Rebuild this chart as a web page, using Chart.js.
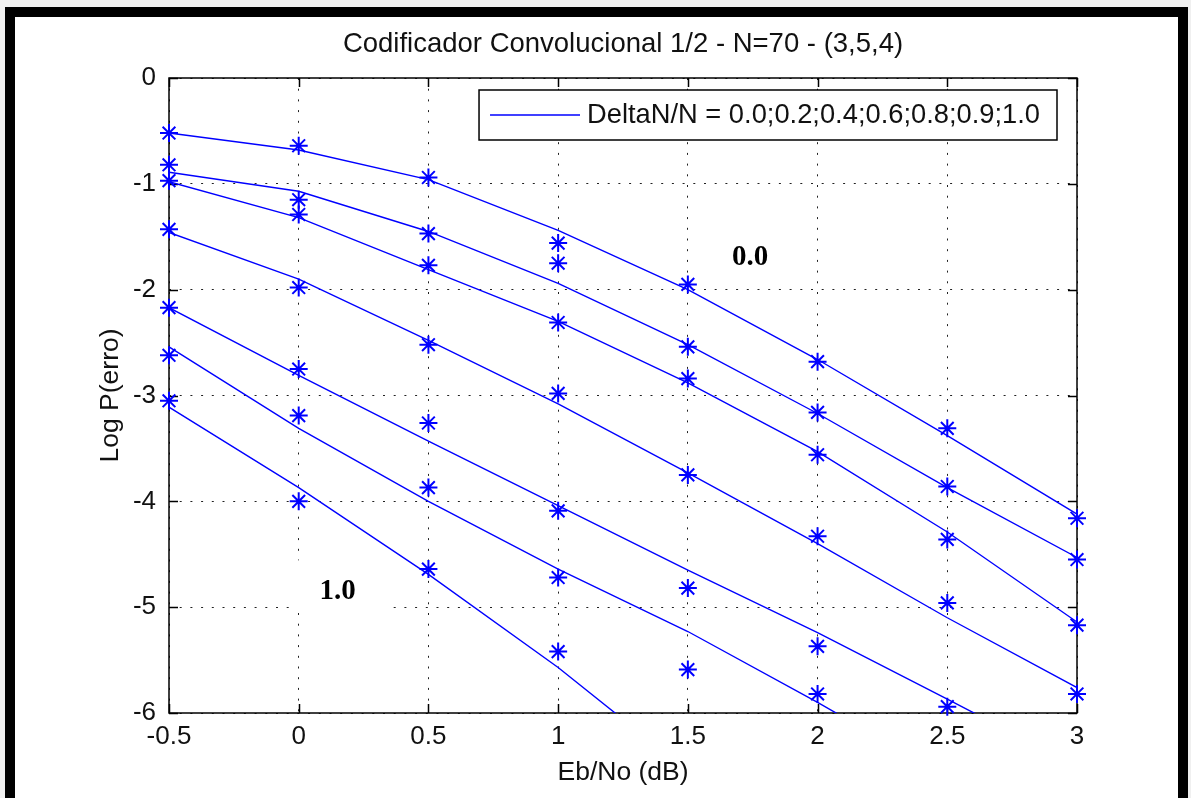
<!DOCTYPE html>
<html>
<head>
<meta charset="utf-8">
<title>Codificador Convolucional</title>
<script src="https://cdn.jsdelivr.net/npm/chart.js@4.4.0/dist/chart.umd.min.js"></script>
<style>
  html, body { margin: 0; padding: 0; background: #f0f0f0; }
  #wrap { position: relative; width: 1191px; height: 798px; overflow: hidden; }
  #frame { position: absolute; left: 5px; top: 7px; width: 1163px; height: 900px;
           border: 10px solid #000; background: #fff; }
  #c { position: absolute; left: 0; top: 0; }
</style>
</head>
<body>
<div id="wrap">
  <div id="frame"></div>
  <canvas id="c" width="1191" height="798"></canvas>
</div>
<script>
// Eb/No (dB) sample points
const ebNo = [-0.5, 0, 0.5, 1, 1.5, 2, 2.5, 3];

// fitted curves, one per DeltaN/N (log10 of error prob.)
const fit00 = [-0.52, -0.68, -0.96, -1.44, -2.00, -2.66, -3.38, -4.12];
const fit02 = [-0.89, -1.07, -1.45, -1.94, -2.52, -3.17, -3.87, -4.53];
const fit04 = [-0.98, -1.32, -1.81, -2.30, -2.88, -3.53, -4.29, -5.14];
const fit06 = [-1.46, -1.90, -2.48, -3.08, -3.73, -4.40, -5.10, -5.76];
const fit08 = [-2.17, -2.81, -3.43, -4.04, -4.65, -5.24, -5.87, -6.50];
const fit09 = [-2.54, -3.31, -4.00, -4.64, -5.23, -5.90, -6.60, null];
const fit10 = [-3.11, -3.87, -4.69, -5.57, -6.55, null, null, null];

// simulated points ('*' markers)
const sim00 = [-0.52, -0.64, -0.94, -1.56, -1.95, -2.68, -3.31, -4.16];
const sim02 = [-0.82, -1.15, -1.47, -1.75, -2.54, -3.16, -3.86, -4.55];
const sim04 = [-0.97, -1.29, -1.77, -2.31, -2.84, -3.56, -4.36, -5.17];
const sim06 = [-1.43, -1.98, -2.52, -2.98, -3.75, -4.33, -4.96, -5.82];
const sim08 = [-2.17, -2.75, -3.26, -4.09, -4.82, -5.37, -5.94, null];
const sim09 = [-2.62, -3.19, -3.87, -4.72, -5.59, -5.82, null, null];
const sim10 = [-3.05, -4.00, -4.64, -5.42, null, null, null, null];

const xTicks = [-0.5, 0, 0.5, 1, 1.5, 2, 2.5, 3];
const xTickLabels = ['-0.5', '0', '0.5', '1', '1.5', '2', '2.5', '3'];
const yTicks = [-6, -5, -4, -3, -2, -1, 0];
const yTickLabels = ['-6', '-5', '-4', '-3', '-2', '-1', '0'];

const legendText = 'DeltaN/N = 0.0;0.2;0.4;0.6;0.8;0.9;1.0';
// curve labels written on the plot
const noteText = ['0.0', '1.0'];
const noteX = [1.74, 0.15];
const noteY = [-1.70, -4.85];

const FONT = "'Liberation Sans', Arial, sans-serif";
const INK = '#111';
const BLUE = '#0000ff';

const fitCurves = [fit00, fit02, fit04, fit06, fit08, fit09, fit10];
const simPoints = [sim00, sim02, sim04, sim06, sim08, sim09, sim10];

const toXY = arr => ebNo.map((x, i) => ({ x: x, y: arr[i] }));

const datasets = [];
fitCurves.forEach((arr, i) => {
  datasets.push({
    label: i === 0 ? legendText : '',
    data: toXY(arr),
    showLine: true,
    borderColor: BLUE,
    borderWidth: 1.4,
    pointRadius: 0,
    tension: 0
  });
});
simPoints.forEach(arr => {
  datasets.push({
    label: '',
    data: toXY(arr),
    showLine: false,
    clip: false,
    pointStyle: 'star',
    pointRadius: 9,
    pointHoverRadius: 9,
    borderColor: BLUE,
    backgroundColor: BLUE,
    borderWidth: 2
  });
});

// matlab style box, inward ticks, legend box and text notes
const matlabAxes = {
  id: 'matlabAxes',
  beforeDatasetsDraw(chart) {
    const { ctx, chartArea: a, scales: { x, y } } = chart;
    ctx.save();
    ctx.strokeStyle = '#000';
    ctx.lineWidth = 1.5;
    ctx.strokeRect(a.left, a.top, a.right - a.left, a.bottom - a.top);
    ctx.beginPath();
    xTicks.forEach(v => {
      const px = Math.round(x.getPixelForValue(v)) + 0.5;
      ctx.moveTo(px, a.bottom); ctx.lineTo(px, a.bottom - 9);
      ctx.moveTo(px, a.top); ctx.lineTo(px, a.top + 9);
    });
    yTicks.forEach(v => {
      const py = Math.round(y.getPixelForValue(v)) + 0.5;
      ctx.moveTo(a.left, py); ctx.lineTo(a.left + 9, py);
      ctx.moveTo(a.right, py); ctx.lineTo(a.right - 9, py);
    });
    ctx.stroke();
    ctx.restore();
  },
  afterDatasetsDraw(chart) {
    const { ctx, chartArea: a, scales: { x, y } } = chart;
    ctx.save();
    // legend
    ctx.font = '27.3px ' + FONT;
    const tw = ctx.measureText(legendText).width;
    const w = 11 + 90 + 7 + tw + 17, h = 50;
    const lx = a.right - 20 - w, ly = a.top + 12;
    ctx.fillStyle = '#fff';
    ctx.fillRect(lx, ly, w, h);
    ctx.strokeStyle = '#000';
    ctx.lineWidth = 1.5;
    ctx.strokeRect(lx, ly, w, h);
    ctx.strokeStyle = BLUE;
    ctx.lineWidth = 1.4;
    ctx.beginPath();
    ctx.moveTo(lx + 11, ly + h / 2);
    ctx.lineTo(lx + 101, ly + h / 2);
    ctx.stroke();
    ctx.fillStyle = INK;
    ctx.textBaseline = 'middle';
    ctx.textAlign = 'left';
    ctx.fillText(legendText, lx + 108, ly + h / 2);

    // curve notes
    ctx.font = "bold 29px 'Liberation Serif', 'Times New Roman', serif";
    ctx.textAlign = 'center';
    noteText.forEach((t, i) => {
      const px = x.getPixelForValue(noteX[i]);
      const py = y.getPixelForValue(noteY[i]);
      ctx.fillStyle = '#fff';
      ctx.fillRect(px - 46, py - 31, 100, 52);
      ctx.fillStyle = '#000';
      ctx.fillText(t, px, py);
    });
    ctx.restore();
  }
};

new Chart(document.getElementById('c'), {
  type: 'scatter',
  data: { datasets: datasets },
  options: {
    responsive: false,
    animation: false,
    layout: { padding: { left: 0, right: 114, top: 0, bottom: 0 } },
    plugins: {
      legend: { display: false },
      tooltip: { enabled: false },
      title: {
        display: true,
        fullSize: false,
        text: 'Codificador Convolucional 1/2 - N=70 - (3,5,4)',
        color: INK,
        font: { family: FONT, size: 27.5, weight: 'normal' },
        padding: { top: 28, bottom: 17 }
      }
    },
    scales: {
      x: {
        type: 'linear',
        min: -0.5,
        max: 3,
        afterBuildTicks: s => { s.ticks = xTicks.map(v => ({ value: v })); },
        afterFit: s => { s.height = 85; },
        grid: { color: '#222', lineWidth: 1, drawTicks: false },
        border: { display: false, dash: [2, 8.7] },
        ticks: {
          padding: 8.4,
          color: INK,
          font: { family: FONT, size: 26 },
          maxRotation: 0,
          autoSkip: false,
          callback: (v, i) => xTickLabels[i]
        },
        title: {
          display: true,
          text: 'Eb/No (dB)',
          color: INK,
          font: { family: FONT, size: 26.5 },
          padding: { top: 0, bottom: 9 }
        }
      },
      y: {
        type: 'linear',
        min: -6,
        max: 0,
        afterBuildTicks: s => { s.ticks = yTicks.map(v => ({ value: v })); },
        afterFit: s => { s.width = 169; },
        grid: { color: '#222', lineWidth: 1, drawTicks: false },
        border: { display: false, dash: [2, 8.7] },
        ticks: {
          padding: 13,
          color: INK,
          font: { family: FONT, size: 26 },
          autoSkip: false,
          callback: (v, i) => yTickLabels[i]
        },
        title: {
          display: true,
          text: 'Log P(erro)',
          color: INK,
          font: { family: FONT, size: 26.5 },
          padding: { top: 95, bottom: 0 }
        }
      }
    }
  },
  plugins: [matlabAxes]
});
</script>
</body>
</html>
